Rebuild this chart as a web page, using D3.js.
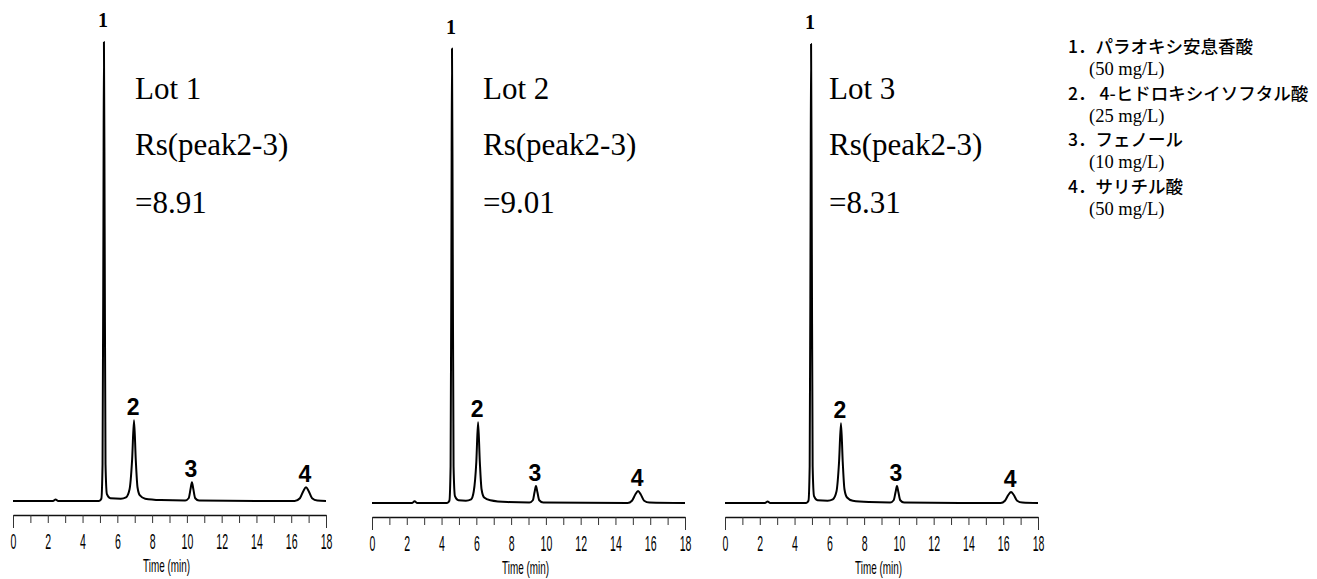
<!DOCTYPE html>
<html>
<head>
<meta charset="utf-8">
<script src="https://cdn.jsdelivr.net/npm/d3@7"></script>
<style>
    body { margin: 0; background: #fff; }
</style>
</head>
<body>
<script>
const width = 1317
const height = 579

// time axis (min)
const tickValues = [0, 1, 2, 3, 4, 5, 6, 7, 8, 9, 10, 11, 12, 13, 14, 15, 16, 17, 18]
const tickLabels = [0, 2, 4, 6, 8, 10, 12, 14, 16, 18]

const lotNames = ["Lot 1", "Lot 2", "Lot 3"]
const rsValues = ["8.91", "9.01", "8.31"]

// peak table per lot: retention time (min), height (relative signal)
const peakNames = ["1", "2", "3", "4"]
const peakTimes = [
    [5.23, 6.96, 10.29, 16.85],
    [4.6, 6.1, 9.43, 15.3],
    [4.95, 6.67, 9.89, 16.45],
]
const peakHeights = [
    [100, 17.6, 4.1, 3.0],
    [99, 17.6, 3.7, 2.6],
    [100, 17.4, 3.7, 2.4],
]

// chromatogram traces [time, signal]
const trace1 = [
    [0, 0], [2.3, 0], [2.45, 0.3], [2.6, 0], [4.95, 0], [5.08, 0.5], [5.15, 8], [5.2, 60],
    [5.23, 100], [5.27, 60], [5.32, 8], [5.4, 1.5], [5.6, 0.6], [6.2, 0.5], [6.5, 0.8],
    [6.7, 2.5], [6.85, 9], [6.96, 17.6], [7.06, 9], [7.16, 3], [7.3, 1.2], [7.6, 0.5],
    [8.5, 0.2], [9.9, 0.1], [10.1, 0.6], [10.21, 2.6], [10.29, 4.1], [10.37, 2.6],
    [10.48, 0.6], [10.7, 0.1], [16.2, 0], [16.5, 0.6], [16.7, 2.2], [16.85, 3.0],
    [17.0, 2.2], [17.2, 0.6], [17.5, 0.1], [18, 0],
]
const trace2 = [
    [0, 0], [2.3, 0], [2.45, 0.4], [2.6, 0], [4.32, 0], [4.45, 0.5], [4.52, 8], [4.57, 60],
    [4.6, 99], [4.64, 60], [4.69, 8], [4.77, 1.5], [4.97, 0.6], [5.4, 0.5], [5.7, 0.8],
    [5.85, 2.5], [6.0, 9], [6.1, 17.6], [6.2, 9], [6.3, 3], [6.45, 1.2], [6.8, 0.6],
    [7.8, 0.2], [9.05, 0.1], [9.25, 0.6], [9.35, 2.4], [9.43, 3.7], [9.51, 2.4],
    [9.62, 0.6], [9.85, 0.1], [14.7, 0], [14.95, 0.5], [15.15, 1.9], [15.3, 2.6],
    [15.45, 1.9], [15.65, 0.5], [15.95, 0.1], [18, 0],
]
const trace3 = [
    [0, 0], [2.3, 0], [2.45, 0.3], [2.6, 0], [4.67, 0], [4.8, 0.5], [4.87, 8], [4.92, 60],
    [4.95, 100], [4.99, 60], [5.04, 8], [5.12, 1.5], [5.32, 0.6], [5.9, 0.5], [6.2, 0.8],
    [6.41, 2.5], [6.56, 9], [6.67, 17.4], [6.77, 9], [6.87, 3], [7.02, 1.2], [7.35, 0.5],
    [8.3, 0.2], [9.5, 0.1], [9.7, 0.6], [9.81, 2.4], [9.89, 3.7], [9.97, 2.4],
    [10.08, 0.6], [10.3, 0.1], [15.85, 0], [16.1, 0.5], [16.3, 1.8], [16.45, 2.4],
    [16.6, 1.8], [16.8, 0.5], [17.1, 0.1], [18, 0],
]
const traces = [trace1, trace2, trace3]

// legend
const compounds = ["1．パラオキシ安息香酸", "2． 4-ヒドロキシイソフタル酸", "3．フェノール", "4．サリチル酸"]
const concentrations = ["(50 mg/L)", "(25 mg/L)", "(10 mg/L)", "(50 mg/L)"]

// panel layout
const panels = [
    { left: 13, base: 501, axisY: 515, textX: 135 },
    { left: 372, base: 503, axisY: 517, textX: 483 },
    { left: 725, base: 503, axisY: 517, textX: 829 },
]
const panelWidth = 313

const svg = d3
    .select("body")
    .append("svg")
    .attr("width", width)
    .attr("height", height)
    .attr("viewBox", [0, 0, width, height])

panels.forEach((p, i) => {
    const x = d3.scaleLinear().domain([0, 18]).range([p.left, p.left + panelWidth])
    const y = d3.scaleLinear().domain([0, 100]).range([p.base, p.base - 459])
    const g = svg.append("g")

    const line = d3
        .line()
        .x((d) => x(d[0]))
        .y((d) => y(d[1]))
        .curve(d3.curveMonotoneX)

    g.append("path")
        .datum(traces[i])
        .attr("fill", "none")
        .attr("stroke", "#000")
        .attr("stroke-width", 2)
        .attr("stroke-linejoin", "round")
        .attr("d", line)

    // axis
    const axis = g
        .append("g")
        .attr("transform", `translate(0,${p.axisY})`)
        .call(
            d3
                .axisBottom(x)
                .tickValues(tickValues)
                .tickSize(8)
                .tickSizeOuter(0)
                .tickFormat((d) => (tickLabels.includes(d) ? d : ""))
        )
    axis.select(".domain").attr("stroke", "#111").attr("stroke-width", 1.3)
    axis.selectAll(".tick line")
        .attr("stroke", "#333")
        .attr("stroke-width", 1)
        .attr("y2", (d) => (d === 0 || d === 18 ? 13 : 8))
    axis.selectAll(".tick text")
        .attr("y", 18)
        .attr("fill", "#000")
        .attr("font-family", "Liberation Sans, Arial, sans-serif")
        .attr("font-size", 22)
        .attr("transform", "scale(0.48,1)")

    g.append("text")
        .attr("transform", `translate(${p.left + panelWidth / 2 - 3},${p.axisY + 57}) scale(0.55,1)`)
        .attr("text-anchor", "middle")
        .attr("font-family", "Liberation Sans, Arial, sans-serif")
        .attr("font-size", 18)
        .text("Time (min)")

    // peak labels
    peakNames.forEach((name, k) => {
        const t = peakTimes[i][k]
        const h = peakHeights[i][k]
        g.append("text")
            .attr("x", x(t) - 1)
            .attr("y", y(h) - (k === 0 ? 15 : 5))
            .attr("text-anchor", "middle")
            .attr("font-family", k === 0 ? "Liberation Serif, serif" : "Liberation Sans, Arial, sans-serif")
            .attr("font-weight", "bold")
            .attr("font-size", k === 0 ? 20 : 23)
            .text(name)
    })

    // lot annotation
    const note = g
        .append("g")
        .attr("font-family", "Liberation Serif, Times New Roman, serif")
        .attr("font-size", 31)
    note.append("text").attr("x", p.textX).attr("y", 99).text(lotNames[i])
    note.append("text").attr("x", p.textX).attr("y", 155).text("Rs(peak2-3)")
    note.append("text").attr("x", p.textX).attr("y", 213).text("=" + rsValues[i])
})

// legend
const legend = svg.append("g")
compounds.forEach((c, k) => {
    legend
        .append("text")
        .attr("x", 1068)
        .attr("y", 53 + k * 46.5)
        .attr("font-family", "Noto Sans CJK JP, sans-serif")
        .attr("font-weight", 500)
        .attr("font-size", 17.5)
        .text(c)
    legend
        .append("text")
        .attr("x", 1089)
        .attr("y", 75 + k * 46.5)
        .attr("font-family", "Liberation Serif, Times New Roman, serif")
        .attr("font-size", 18.5)
        .text(concentrations[k])
})
</script>
</body>
</html>
